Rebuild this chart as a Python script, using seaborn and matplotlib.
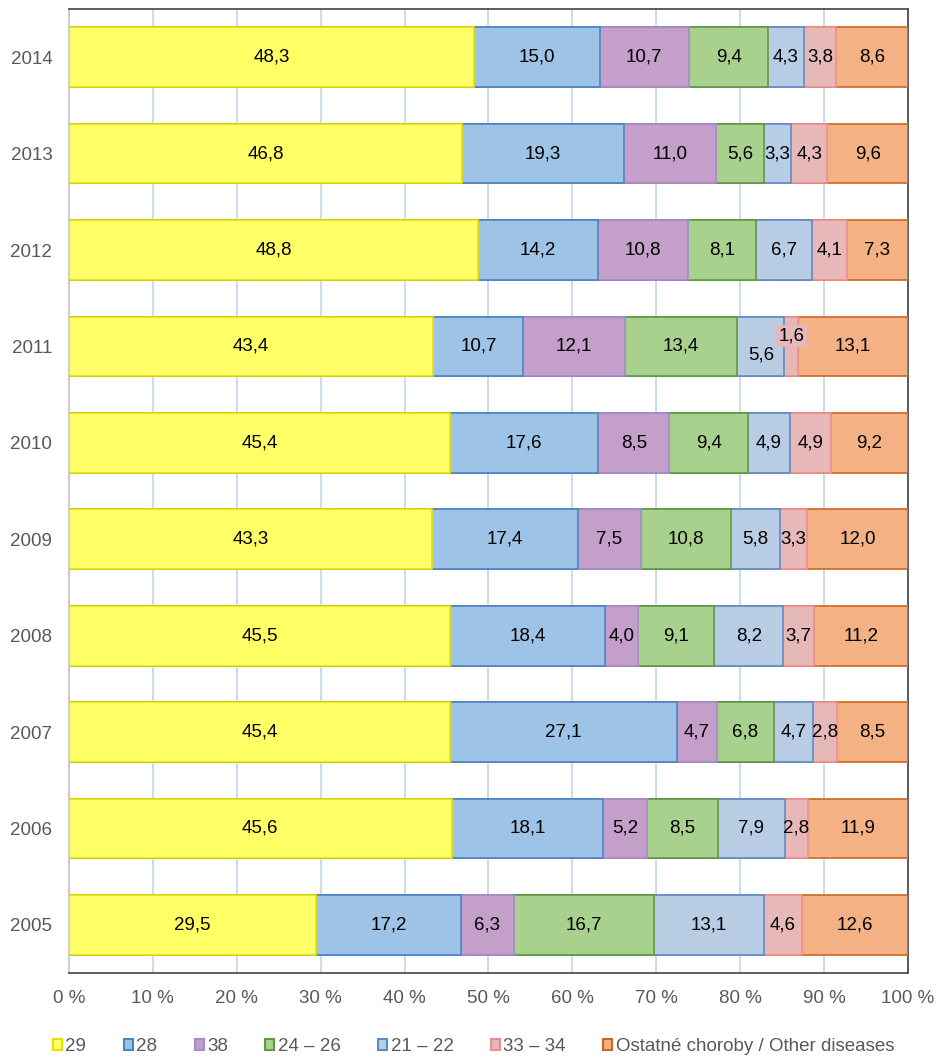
import matplotlib
matplotlib.use("Agg")
import matplotlib.pyplot as plt
from matplotlib.patches import Patch
import seaborn as sns
import numpy as np
import pandas as pd

years = ["2014", "2013", "2012", "2011", "2010", "2009", "2008", "2007", "2006", "2005"]
categories = ["29", "28", "38", "24 – 26", "21 – 22", "33 – 34", "Ostatné choroby / Other diseases"]
v29 = [48.3, 46.8, 48.8, 43.4, 45.4, 43.3, 45.5, 45.4, 45.6, 29.5]
v28 = [15.0, 19.3, 14.2, 10.7, 17.6, 17.4, 18.4, 27.1, 18.1, 17.2]
v38 = [10.7, 11.0, 10.8, 12.1, 8.5, 7.5, 4.0, 4.7, 5.2, 6.3]
v24_26 = [9.4, 5.6, 8.1, 13.4, 9.4, 10.8, 9.1, 6.8, 8.5, 16.7]
v21_22 = [4.3, 3.3, 6.7, 5.6, 4.9, 5.8, 8.2, 4.7, 7.9, 13.1]
v33_34 = [3.8, 4.3, 4.1, 1.6, 4.9, 3.3, 3.7, 2.8, 2.8, 4.6]
v_other = [8.6, 9.6, 7.3, 13.1, 9.2, 12.0, 11.2, 8.5, 11.9, 12.6]
x_ticks = [0, 10, 20, 30, 40, 50, 60, 70, 80, 90, 100]

fills = ["#FFFF66", "#9DC3E6", "#C39FC9", "#A9D18E", "#B8CCE4", "#E6B8B7", "#F4B183"]
edges = ["#E8E000", "#4A86C0", "#A888D0", "#5E9A3E", "#5B8CC6", "#F08C8C", "#D0651E"]

sns.set_theme(style="white")
plt.rcParams["font.family"] = ["Liberation Sans", "DejaVu Sans"]
FS = 13.5

series = [v29, v28, v38, v24_26, v21_22, v33_34, v_other]
vals = np.array(series, dtype=float)  # (7, 10)
pct = vals / vals.sum(axis=0) * 100
cum = np.cumsum(pct, axis=0)

fig = plt.figure(figsize=(9.37, 10.58), dpi=100)
ax = fig.add_axes([0.0736, 0.0803, 0.8954, 0.9112])

for i in range(len(categories) - 1, -1, -1):
    df = pd.DataFrame({"year": years, "cum": cum[i]})
    sns.barplot(data=df, x="cum", y="year", order=years, orient="h",
                color=fills[i], saturation=1, edgecolor=edges[i], linewidth=1.2,
                width=0.62, errorbar=None, ax=ax, zorder=3)

ax.set_xlim(0, 100)
ax.set_ylim(len(years) - 0.5, -0.5)
ax.set_xticks(x_ticks)
ax.set_xticklabels([f"{t} %" for t in x_ticks])
ax.xaxis.grid(True, color="#BDD7EE", linewidth=1.2, zorder=0)
ax.yaxis.grid(False)
ax.set_axisbelow(True)
ax.set_xlabel("")
ax.set_ylabel("")
ax.tick_params(axis="x", length=0, pad=12, labelsize=FS, labelcolor="#595959")
ax.tick_params(axis="y", length=0, pad=12, labelsize=FS, labelcolor="#595959")
for s in ["top", "right", "bottom"]:
    ax.spines[s].set_color("#505050")
    ax.spines[s].set_linewidth(1.3)
ax.spines["left"].set_color("#C8C8C8")
ax.spines["left"].set_linewidth(1.3)

# value labels
for i in range(len(categories)):
    for j, y in enumerate(years):
        center = cum[i, j] - pct[i, j] / 2
        label = f"{vals[i, j]:.1f}".replace(".", ",")
        dy = 0
        bbox = None
        if y == "2011" and i == 5:
            dy = 7.5
            bbox = dict(boxstyle="square,pad=0.15", fc=fills[5], ec="none")
        elif y == "2011" and i == 4:
            dy = -6
        ax.annotate(label, (center, j), xytext=(0, dy), textcoords="offset points",
                    ha="center", va="center", fontsize=FS, color="#000000",
                    zorder=5, bbox=bbox)

handles = [Patch(facecolor=fills[i], edgecolor=edges[i], linewidth=1.5) for i in range(len(categories))]
fig.legend(handles, categories, loc="center left", bbox_to_anchor=(0.0566, 0.0105),
           ncol=7, frameon=False, fontsize=FS, handlelength=0.48, handleheight=0.5,
           handletextpad=0.18, columnspacing=2.0, labelcolor="#595959", borderaxespad=0,
           borderpad=0)

fig.savefig("out.png", dpi=100)
